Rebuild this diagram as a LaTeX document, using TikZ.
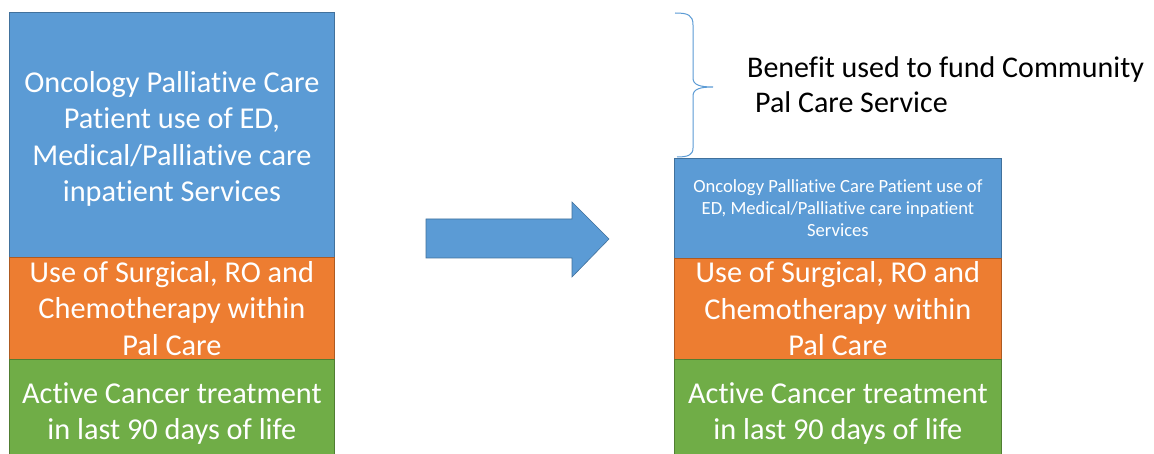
\documentclass[tikz,border=0pt]{standalone}
\usepackage{fontspec}
\setmainfont[Ligatures=NoCommon]{Carlito}
\definecolor{pblue}{HTML}{5B9BD5}
\definecolor{pbluedk}{HTML}{41719C}
\definecolor{porange}{HTML}{ED7D31}
\definecolor{porangedk}{HTML}{AE5A21}
\definecolor{pgreen}{HTML}{70AD47}
\definecolor{pgreendk}{HTML}{507E32}
\begin{document}
\begin{tikzpicture}[x=1pt,y=-1pt,
  box/.style={anchor=north west, inner sep=0pt, text=white, align=center, line width=0.8pt},
  bluebox/.style={box, fill=pblue, draw=pbluedk},
  orangebox/.style={box, fill=porange, draw=porangedk},
  greenbox/.style={box, fill=pgreen, draw=pgreendk},
  boxtext/.style={inner sep=0pt, text=white, align=center},
  big/.style={font=\fontsize{30.3}{36.5}\selectfont},
  small/.style={font=\fontsize{18.6}{22}\selectfont},
]
\clip (0,0) rectangle (1154,454);
\fill[white] (0,0) rectangle (1154,454);
% left column
\node[bluebox, minimum width=325pt, minimum height=245pt] (lblue) at (9,12) {};
\node[boxtext, big] (lbluetext) at ([yshift=-4pt]lblue.center)
  {Oncology Palliative Care\\Patient use of ED,\\Medical/Palliative care\\inpatient Services};
\node[orangebox, big, minimum width=325pt, minimum height=102pt] (lorange) at (9,257)
  {Use of Surgical, RO and\\Chemotherapy within\\Pal Care};
\node[greenbox, big, minimum width=325pt, minimum height=108pt] (lgreen) at (9,359)
  {Active Cancer treatment\\in last 90 days of life};
% right column
\node[bluebox, small, minimum width=327pt, minimum height=100pt] (rblue) at (674,158)
  {Oncology Palliative Care Patient use of\\ED, Medical/Palliative care inpatient\\Services};
\node[orangebox, big, minimum width=327pt, minimum height=101pt] (rorange) at (674,258)
  {Use of Surgical, RO and\\Chemotherapy within\\Pal Care};
\node[greenbox, big, minimum width=327pt, minimum height=108pt] (rgreen) at (674,359)
  {Active Cancer treatment\\in last 90 days of life};
% big arrow
\fill[pblue, draw=pbluedk, line width=0.6pt]
  (426,219) -- (572,219) -- (572,202) -- (609,239) -- (572,277) -- (572,258) -- (426,258) -- cycle;
% brace
\draw[pblue, line width=1pt]
  (675,13) .. controls (688,13) and (693,15) .. (693,25) -- (693,78)
  .. controls (693,85) and (700,87) .. (713,87)
  .. controls (700,87) and (693,89) .. (693,96) -- (693,148)
  .. controls (693,155) and (688,157) .. (677,157);
\node[anchor=north west, inner sep=0pt, align=left, font=\fontsize{30}{35}\selectfont] (benefit) at (747,56)
  {Benefit used to fund Community\\\hspace*{8pt}Pal Care Service};
\end{tikzpicture}
\end{document}
